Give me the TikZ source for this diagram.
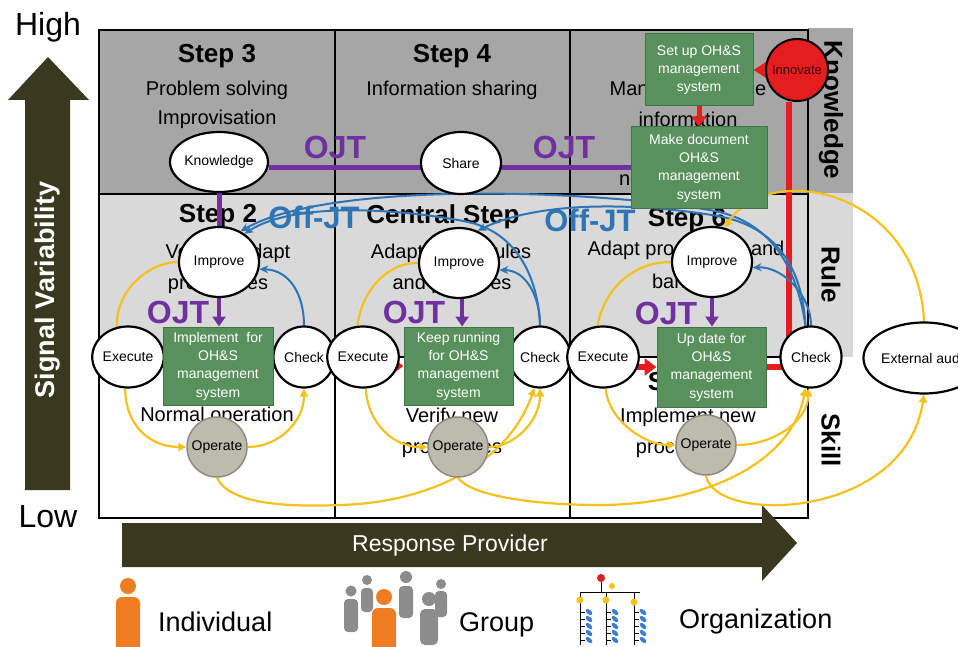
\documentclass[tikz,border=0pt]{standalone}
\usepackage{fontspec}
\setmainfont{Liberation Sans}
\usetikzlibrary{shapes.geometric,arrows.meta}
\pgfdeclarelayer{back}
\pgfdeclarelayer{conn}
\pgfsetlayers{back,conn,main}
\newcommand{\fsz}[2]{\fontsize{#1}{#2}\selectfont}
\definecolor{gdark}{HTML}{A6A6A6}
\definecolor{glight}{HTML}{D9D9D9}
\definecolor{olivedk}{HTML}{3A391F}
\definecolor{boxgreen}{HTML}{58915C}
\definecolor{boxedge}{HTML}{41744A}
\definecolor{purp}{HTML}{7030A0}
\definecolor{bluel}{HTML}{2E75B6}
\definecolor{yel}{HTML}{F5C11C}
\definecolor{redl}{HTML}{E41E1E}
\definecolor{opfill}{HTML}{BDBBAE}
\definecolor{opedge}{HTML}{8E8C82}
\definecolor{orangep}{HTML}{EE7D22}
\definecolor{grayp}{HTML}{8C8C8C}
\definecolor{orgblue}{HTML}{3D7DD8}
\tikzset{
  ell/.style={ellipse, draw=black, line width=2.2pt, fill=white, inner sep=0pt, font=\fsz{14}{16}},
  exnode/.style={ell, minimum width=61pt, minimum height=61pt},
  impnode/.style={ell, minimum width=80pt, minimum height=70pt},
  opnode/.style={circle, draw=opedge, line width=1.5pt, fill=opfill, minimum size=60pt, inner sep=0pt, font=\fsz{14}{16}},
  gbox/.style={rectangle, draw=boxedge, line width=1pt, fill=boxgreen, text=white, align=center, inner sep=0pt, font=\fsz{14}{18.3}},
  regtxt/.style={font=\fsz{20}{24}, inner sep=0pt},
  steptxt/.style={font=\bfseries\fsz{26}{30}, inner sep=0pt},
  ojt/.style={font=\bfseries\fsz{32}{36}, text=purp, inner sep=0pt},
  offjt/.style={font=\bfseries\fsz{31}{34}, text=bluel, inner sep=0pt},
  bandtxt/.style={font=\bfseries\fsz{26}{30}, rotate=-90, inner sep=0pt},
  purpline/.style={draw=purp, line width=5pt},
  purparr/.style={draw=purp, line width=4pt, -{Triangle[length=10pt,width=13pt]}},
  bluearr/.style={draw=bluel, line width=2pt, -{Stealth[length=9pt,width=8pt]}},
  yelline/.style={draw=yel, line width=2.2pt},
  yelarr/.style={yelline, -{Triangle[length=8pt,width=8pt]}},
  redline/.style={draw=redl, line width=6pt},
  redarr/.style={draw=redl, line width=6pt, -{Triangle[length=12pt,width=17pt]}},
}
\begin{document}
\begin{tikzpicture}[x=1pt,y=-1pt]
\useasboundingbox (0,0) rectangle (958,647);

% ---------- background layer ----------
\begin{pgfonlayer}{back}
\fill[white] (0,0) rectangle (958,647);
\fill[gdark] (99,30) rectangle (808,194);
\fill[glight] (99,194) rectangle (808,357);
\fill[gdark] (808,28) rectangle (853,193);
\fill[glight] (808,193) rectangle (853,357);
\draw[line width=2pt] (99,30) rectangle (808,518);
\draw[line width=2pt] (335,30) -- (335,518);
\draw[line width=2pt] (570,30) -- (570,518);
\draw[line width=2pt] (99,194) -- (808,194);
\draw[line width=1.5pt] (99,357) -- (808,357);

% region texts
\node[steptxt] at (217,56) {Step 3};
\node[regtxt] at (217,90) {Problem solving};
\node[regtxt] at (217,119) {Improvisation};
\node[steptxt] at (452,56) {Step 4};
\node[regtxt] at (452,90) {Information sharing};
\node[regtxt] at (688,90) {Manage available};
\node[regtxt] at (688,119) {information};
\node[regtxt] at (688,180) {new knowledge};
\node[steptxt] at (218,216) {Step 2};
\node[regtxt] at (228,253) {Verify \& adapt};
\node[regtxt] at (218,284) {procedures};
\node[steptxt] at (443,217) {Central Step};
\node[regtxt] at (451,253) {Adapt safety rules};
\node[regtxt] at (452,284) {and practices};
\node[steptxt] at (687,220) {Step 6};
\node[regtxt] at (686,250) {Adapt procedures and};
\node[regtxt] at (686,281) {barriers};
\node[steptxt] at (687,384) {Step 7};
\node[regtxt] at (217,416) {Normal operation};
\node[regtxt] at (452,417) {Verify new};
\node[regtxt] at (452,448) {procedures};
\node[regtxt] at (688,417) {Implement new};
\node[regtxt] at (686,448) {procedures};

\node[bandtxt] at (831,110) {Knowledge};
\node[bandtxt] at (831,275) {Rule};
\node[bandtxt] at (831,440) {Skill};

% axes arrows
\fill[olivedk] (25,490) -- (25,100) -- (8,100) -- (48,57) -- (89,100) -- (70,100) -- (70,490) -- cycle;
\node[rotate=90, text=white, font=\bfseries\fsz{27}{30}, inner sep=0pt] (sv) at (48,290) {Signal Variability};
\node[font=\fsz{32}{36}, inner sep=0pt] (hi) at (48,27) {High};
\node[font=\fsz{32}{36}, inner sep=0pt] (lo) at (48,517) {Low};
\fill[olivedk] (122,523) -- (762,523) -- (762,505) -- (797,543) -- (762,581) -- (762,567) -- (122,567) -- cycle;
\node[text=white, font=\fsz{23}{26}, inner sep=0pt] (rp) at (450,546) {Response Provider};
\end{pgfonlayer}

% ---------- nodes ----------
\node[ell, minimum width=83pt, minimum height=60pt] (kn) at (219,162) {Knowledge};
\node[ell, minimum width=80pt, minimum height=62pt] (sh) at (461,163) {Share};
\node[impnode] (im1) at (219,262) {Improve};
\node[impnode] (im2) at (459,263) {Improve};
\node[impnode] (im3) at (712,262) {Improve};
\node[exnode] (ex1) at (128,357) {Execute};
\node[exnode] (ch1) at (304,357) {Check};
\node[exnode] (ex2) at (363,357) {Execute};
\node[exnode] (ch2) at (540,357) {Check};
\node[exnode] (ex3) at (603,357) {Execute};
\node[exnode] (ch3) at (811,357) {Check};
\node[ell, minimum width=108pt, minimum height=71pt] (ea) at (924,358) {External audit};
\node[opnode] (op1) at (217,447) {Operate};
\node[opnode] (op2) at (458,447) {Operate};
\node[opnode] (op3) at (706,445) {Operate};
\node[circle, draw=black, line width=2pt, fill=redl, minimum size=62pt, inner sep=0pt, font=\fsz{13}{15}, text=black!75!red] (inn) at (797,70) {Innovate};

\node[gbox, minimum width=108pt, minimum height=72pt] (su) at (699,70) {Set up OH\&S\\management\\system};
\node[gbox, minimum width=136pt, minimum height=82pt] (md) at (699,168) {Make document\\OH\&S\\management\\system};
\node[gbox, minimum width=110pt, minimum height=78pt] (b1) at (218,366) {Implement\ \ for\\OH\&S\\management\\system};
\node[gbox, minimum width=109pt, minimum height=78pt] (b2) at (458.5,366) {Keep running\\for OH\&S\\management\\system};
\node[gbox, minimum width=109pt, minimum height=80pt] (b3) at (711.5,367) {Up date for\\OH\&S\\management\\system};

% ---------- connectors ----------
\begin{pgfonlayer}{conn}
% red
\draw[redline] (b1.east) -- (ex2.center |- b1.east);
\draw[redarr] (ex2.center |- b2.west) -- (b2.west);
\draw[redline] (b2.east) -- (ex3.center |- b2.east);
\draw[redarr] (ex3.center |- b3.west) -- (b3.west);
\draw[redline] (b3.east) -| (ch3.133 |- inn.south);
\draw[draw=redl, line width=2.5pt, -{Triangle[length=13pt,width=16pt]}] (inn.west) -- (su.east);
\draw[draw=redl, line width=5pt, -{Triangle[length=10pt,width=15pt]}] (su.south) -- (md.north);
% purple
\draw[purpline] (md.west) -- (md.west -| kn.east);
\draw[purpline] (kn.south) -- (im1.north);
\draw[purparr] (im1.south) -- (im1.south |- b1.north);
\draw[purparr] (im2.-85) -- (im2.-85 |- b2.north);
\draw[purparr] (im3.south) -- (im3.south |- b3.north);
% blue
\draw[bluearr] (ch1.north) .. controls (304,295) and (290,270) .. (im1.-10);
\draw[bluearr] (ch2.north) .. controls (540,295) and (525,270) .. (im2.-10);
\draw[bluearr] (ch3.north) .. controls (811,295) and (782,266) .. (im3.-8);
\draw[bluearr] (ch3.100) .. controls (796,262) and (768,222) .. (715,211) .. controls (600,190) and (330,180) .. (im1.55);
\draw[bluearr] (ch3.100) .. controls (802,262) and (772,226) .. (718,216) .. controls (640,203) and (540,200) .. (im2.60);
\draw[bluearr] (ch2.north) .. controls (538,275) and (515,232) .. (468,222) .. controls (420,212) and (300,198) .. (im1.48);
% yellow
\draw[yelline] (ex1.110) .. controls (115,290) and (150,262) .. (im1.west);
\draw[yelline] (ex2.100) .. controls (362,288) and (390,262) .. (im2.west);
\draw[yelline] (ex3.100) .. controls (604,290) and (632,262) .. (im3.west);
\draw[yelarr] (ex1.-95) .. controls (125,425) and (150,447) .. (op1.west);
\draw[yelarr] (ex2.-85) .. controls (368,425) and (395,447) .. (op2.west);
\draw[yelarr] (ex3.-85) .. controls (608,420) and (645,445) .. (op3.west);
\draw[yelarr] (op1.east) .. controls (280,447) and (304,420) .. (ch1.south);
\draw[yelarr] (op2.east) .. controls (515,447) and (540,420) .. (ch2.south);
\draw[yelarr] (op3.east) .. controls (775,445) and (808,420) .. (ch3.-95);
\draw[yelarr] (op1.south) .. controls (230,505) and (290,507) .. (340,505) .. controls (420,503) and (505,470) .. (ch2.-100);
\draw[yelarr] (op2.south) .. controls (470,495) and (530,505) .. (600,505) .. controls (690,505) and (790,470) .. (ch3.-100);
\draw[yelarr] (op3.south) .. controls (715,525) and (905,520) .. (ea.south);
\draw[yelarr] (ea.north) .. controls (918,190) and (770,160) .. (im3.70);
\end{pgfonlayer}

% ---------- labels ----------
\node[ojt] (ojta) at (335,147) {OJT};
\node[ojt] (ojtb) at (564,147) {OJT};
\node[ojt] (ojt1) at (178,312) {OJT};
\node[ojt] (ojt2) at (414,312) {OJT};
\node[ojt] (ojt3) at (666,313) {OJT};
\node[offjt] (off1) at (314,217) {Off-JT};
\node[offjt] (off2) at (590,220) {Off-JT};

% ---------- bottom legend ----------
\fill[orangep] (128,586) circle (8);
\fill[orangep, rounded corners=6] (116,597) rectangle (140,656);
\node[anchor=west, font=\fsz{27}{30}, inner sep=0pt] (ind) at (158,622) {Individual};

\fill[grayp] (351,591) circle (5.5);
\fill[grayp, rounded corners=4] (344,599) rectangle (358,632);
\fill[grayp] (367,580) circle (5);
\fill[grayp, rounded corners=4] (361,588) rectangle (373,612);
\fill[grayp] (406,577) circle (6);
\fill[grayp, rounded corners=4] (399,586) rectangle (413,618);
\fill[grayp] (441,584) circle (5);
\fill[grayp, rounded corners=4] (435,591) rectangle (447,617);
\fill[grayp] (429,599) circle (7);
\fill[grayp, rounded corners=5] (420,609) rectangle (438,645);
\fill[orangep] (384,597) circle (8);
\fill[orangep, rounded corners=6] (372,608) rectangle (396,656);
\node[anchor=west, font=\fsz{27}{30}, inner sep=0pt] (grp) at (459,625) {Group};

\draw[line width=0.8pt] (601,582) -- (601,592) (580,592) -- (640,592)
  (580,592) -- (580,645) (606,592) -- (606,645) (634,592) -- (634,645);
\foreach \cx in {580,606,634}{
  \foreach \i in {0,...,4}{
    \draw[line width=0.6pt] (\cx,612+\i*7) -- (\cx+5,612+\i*7);
    \fill[orgblue, rotate around={-40:(\cx+9,612+\i*7)}] (\cx+9,612+\i*7) ellipse (4 and 2.2);
  }
}
\fill[redl] (601,578) circle (4);
\fill[yel] (580,600) circle (3.5);
\fill[yel] (606,600) circle (3.5);
\fill[yel] (634,602) circle (3.5);
\fill[yel] (612,586) circle (3);
\node[anchor=west, font=\fsz{27}{30}, inner sep=0pt] (org) at (679,622) {Organization};
\end{tikzpicture}
\end{document}
